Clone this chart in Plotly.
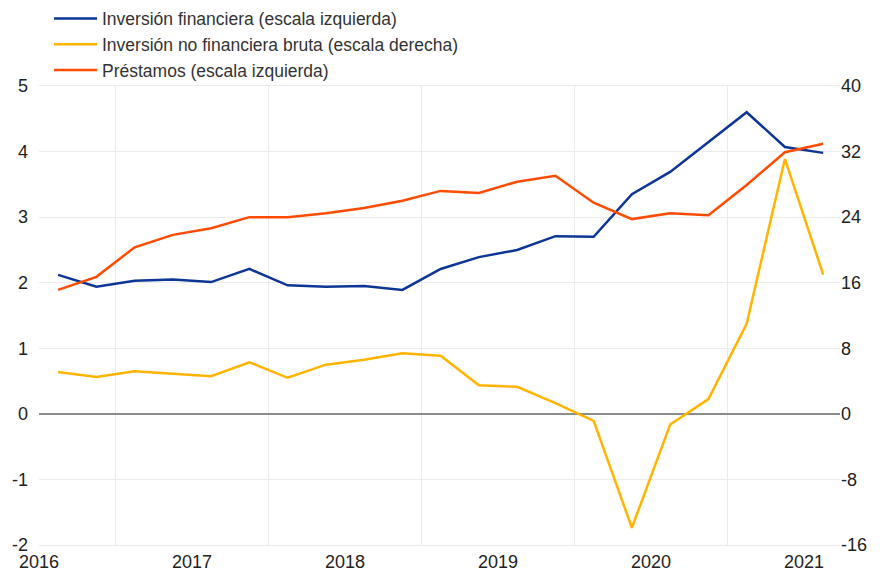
import plotly.graph_objects as go

# Quarterly observations 2016Q1 - 2021Q1 (x = decimal year position)
x_pos = [2016.125 + 0.25 * k for k in range(21)]

inversion_financiera = [2.12, 1.94, 2.03, 2.05, 2.01, 2.21, 1.96, 1.94, 1.95, 1.89,
                        2.21, 2.39, 2.50, 2.71, 2.70, 3.35, 3.69, 4.15, 4.60, 4.07, 3.98]
inversion_no_financiera = [5.1, 4.5, 5.2, 4.9, 4.6, 6.3, 4.4, 6.0, 6.6, 7.4,
                           7.1, 3.5, 3.3, 1.3, -0.85, -13.9, -1.3, 1.8, 11.0, 31.1, 17.0]
prestamos = [1.89, 2.09, 2.54, 2.73, 2.83, 3.00, 3.00, 3.06, 3.14, 3.25,
             3.40, 3.37, 3.54, 3.63, 3.22, 2.97, 3.06, 3.03, 3.49, 3.99, 4.12]

year_ticks = [2016, 2017, 2018, 2019, 2020, 2021]
year_labels = ["2016", "2017", "2018", "2019", "2020", "2021"]
mid_year_grid = [2016.5, 2017.5, 2018.5, 2019.5, 2020.5]
left_ticks = [-2, -1, 0, 1, 2, 3, 4, 5]
left_labels = ["-2", "-1", "0", "1", "2", "3", "4", "5"]
right_ticks = [-16, -8, 0, 8, 16, 24, 32, 40]
right_labels = ["-16", "-8", "0", "8", "16", "24", "32", "40"]

BLUE = "#0d3596"
YELLOW = "#ffb400"
ORANGE = "#ff4b00"
GRID = "#ebebeb"

fig = go.Figure()
fig.add_trace(go.Scatter(x=x_pos, y=inversion_financiera, mode="lines",
                         name="Inversión financiera (escala izquierda)",
                         line=dict(color=BLUE, width=2.5)))
fig.add_trace(go.Scatter(x=x_pos, y=inversion_no_financiera, mode="lines",
                         name="Inversión no financiera bruta (escala derecha)",
                         line=dict(color=YELLOW, width=2.5), yaxis="y2"))
fig.add_trace(go.Scatter(x=x_pos, y=prestamos, mode="lines",
                         name="Préstamos (escala izquierda)",
                         line=dict(color=ORANGE, width=2.5)))

font_family = "Liberation Sans, Arial, sans-serif"

fig.update_layout(
    width=876, height=564,
    margin=dict(l=31, r=44, t=78, b=27, autoexpand=False),
    paper_bgcolor="white", plot_bgcolor="white",
    font=dict(family=font_family, size=18, color="#222"),
    showlegend=True,
    legend=dict(x=0.0125, y=1.186, xanchor="left", yanchor="top",
                font=dict(size=17.5, color="#333"), bgcolor="rgba(0,0,0,0)",
                tracegroupgap=0, itemwidth=43),
    xaxis=dict(range=[2016, 2021.235], tickmode="array", tickvals=year_ticks,
               ticktext=year_labels, showgrid=False, zeroline=False,
               showline=True, linecolor=GRID, mirror=True,
               ticks="", tickfont=dict(size=18, color="#222"),
               minor=dict(tickmode="array", tickvals=mid_year_grid, showgrid=True,
                          gridcolor=GRID, gridwidth=1, ticks="")),
    yaxis=dict(range=[-2, 5], tickmode="array", tickvals=left_ticks, ticktext=left_labels,
               showgrid=True, gridcolor=GRID, gridwidth=1,
               zeroline=True, zerolinecolor="#8c8c8c", zerolinewidth=2,
               showline=False, ticks="", ticklabelstandoff=10,
               tickfont=dict(size=18, color="#222")),
    yaxis2=dict(range=[-16, 40], tickmode="array", tickvals=right_ticks, ticktext=right_labels,
                overlaying="y", side="right", showgrid=False, zeroline=False,
                showline=False, ticks="", tickfont=dict(size=18, color="#222")),
)

fig.write_html("out.html")
